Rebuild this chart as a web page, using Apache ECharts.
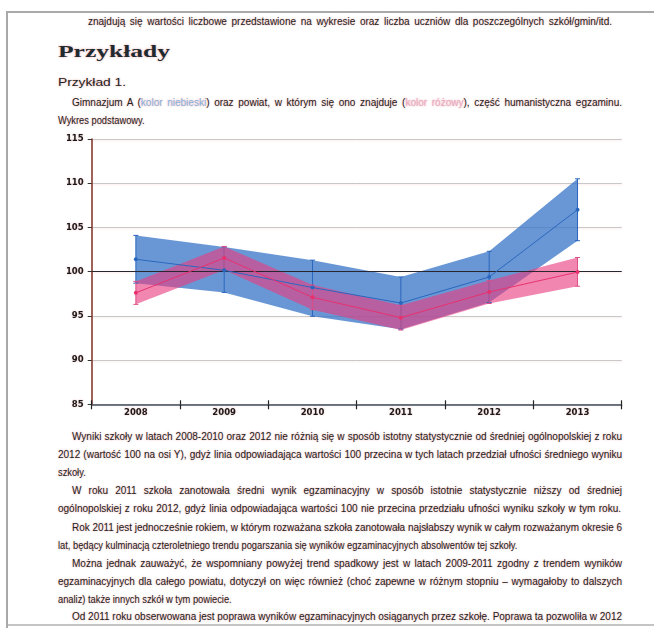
<!DOCTYPE html>
<html>
<head>
<meta charset="utf-8">
<script src="https://cdn.jsdelivr.net/npm/echarts@6/dist/echarts.min.js"></script>
<style>
  html, body { margin:0; padding:0; background:#fff; width:654px; height:628px; overflow:hidden; }
  #page { position:absolute; left:0; top:0; width:654px; height:628px; }
  .frameL { position:absolute; left:6px; top:11px; width:2px; height:617px; background:#a9a9a9; }
  .frameT { position:absolute; left:6px; top:11px; width:648px; height:2px; background:#a9a9a9; }
  .frameB { position:absolute; left:8px; top:624px; width:646px; height:2px; background:#c4c4c4; }
  .ln { position:absolute; white-space:nowrap; font-family:"Liberation Sans", Arial, sans-serif; font-size:10px;
        line-height:14px; height:14px; color:#222; transform-origin:0 50%;
        text-shadow:0 0 2px rgba(210,50,50,0.45); }
  .ln span { display:inline-block; }
  .head { font-family:"Liberation Serif", "DejaVu Serif", serif; font-weight:bold; font-size:16.5px; line-height:22px; height:22px; color:#1e2a30; }
  .sub { font-size:11px; text-decoration:underline; }
  .blue { color:#86b4e2; }
  .pink { color:#e9aac6; }
  #chart { position:absolute; left:0; top:128px; width:654px; height:300px; }
  #clip { position:absolute; left:0; top:0; width:654px; height:624px; overflow:hidden; }
</style>
</head>
<body>
<div id="page">
  <div id="clip"></div>
  <div id="chart"></div>
  <div class="frameL"></div>
  <div class="frameT"></div>
  <div class="frameB"></div>
</div>
<script>
// ---- data ----
var years = ['2008', '2009', '2010', '2011', '2012', '2013'];
var schoolMean = [101.4, 100.15, 98.2, 96.45, 99.4, 107.0];
var schoolLow  = [98.7, 97.65, 94.95, 93.5, 96.5, 103.5];
var schoolHigh = [104.1, 102.8, 101.3, 99.4, 102.3, 110.5];
var countyMean = [97.6, 101.55, 97.1, 94.8, 97.7, 99.95];
var countyLow  = [96.3, 100.2, 95.7, 93.4, 96.4, 98.35];
var countyHigh = [98.9, 102.85, 98.5, 96.2, 99.0, 101.6];
var referenceValue = 100;
var yMin = 85, yMax = 115, yStep = 5;

// ---- text lines of the page: [text(html), left, centerY, targetWidth, mode, cls] ----
var textLines = [
  ['znajdują się wartości liczbowe przedstawione na wykresie oraz liczba uczniów dla poszczególnych szkół/gmin/itd.', 88, 22, 524, 'j', ''],
  ['Przykłady', 58, 52, 112, 'fit', 'head'],
  ['Przykład 1.', 58, 82, 68, 'fit', 'sub'],
  ['Gimnazjum A (<span class="blue">kolor niebieski</span>) oraz powiat, w którym się ono znajduje (<span class="pink">kolor różowy</span>), część humanistyczna egzaminu.', 72, 103, 550, 'j', ''],
  ['Wykres podstawowy.', 58, 121, 0, 'l', ''],
  ['Wyniki szkoły w latach 2008-2010 oraz 2012 nie różnią się w sposób istotny statystycznie od średniej ogólnopolskiej z roku', 72, 437, 550, 'j', ''],
  ['2012 (wartość 100 na osi Y), gdyż linia odpowiadająca wartości 100 przecina w tych latach przedział ufności średniego wyniku', 58, 455, 564, 'j', ''],
  ['szkoły.', 58, 473, 0, 'l', ''],
  ['W roku 2011 szkoła zanotowała średni wynik egzaminacyjny w sposób istotnie statystycznie niższy od średniej', 72, 491, 550, 'j', ''],
  ['ogólnopolskiej z roku 2012, gdyż linia odpowiadająca wartości 100 nie przecina przedziału ufności wyniku szkoły w tym roku.', 58, 509, 563, 'j', ''],
  ['Rok 2011 jest jednocześnie rokiem, w którym rozważana szkoła zanotowała najsłabszy wynik w całym rozważanym okresie 6', 72, 528, 550, 'j', ''],
  ['lat, będący kulminacją czteroletniego trendu pogarszania się wyników egzaminacyjnych absolwentów tej szkoły.', 58, 546, 0, 'l', ''],
  ['Można jednak zauważyć, że wspomniany powyżej trend spadkowy jest w latach 2009-2011 zgodny z trendem wyników', 72, 564, 550, 'j', ''],
  ['egzaminacyjnych dla całego powiatu, dotyczył on więc również (choć zapewne w różnym stopniu – wymagałoby to dalszych', 58, 582, 564, 'j', ''],
  ['analiz) także innych szkół w tym powiecie.', 58, 600, 0, 'l', ''],
  ['Od 2011 roku obserwowana jest poprawa wyników egzaminacyjnych osiąganych przez szkołę. Poprawa ta pozwoliła w 2012', 72, 617, 550, 'j', '']
];

var clip = document.getElementById('clip');
textLines.forEach(function (t) {
  var d = document.createElement('div');
  d.className = 'ln ' + t[5];
  d.innerHTML = '<span>' + t[0] + '</span>';
  clip.appendChild(d);
  var h = d.className.indexOf('head') >= 0 ? 22 : 14;
  d.style.left = t[1] + 'px';
  d.style.top = (t[2] - h / 2) + 'px';
  var sp = d.firstChild;
  var w = sp.getBoundingClientRect().width;
  var target = t[3];
  if (t[4] === 'j') {
    var spaces = (sp.textContent.match(/ /g) || []).length;
    if (w < target && spaces > 0) {
      sp.style.wordSpacing = ((target - w) / spaces) + 'px';
    } else if (w > target) {
      d.style.transform = 'scaleX(' + (target / w) + ')';
    }
  } else if (t[4] === 'fit') {
    d.style.transform = 'scaleX(' + (target / w) + ')';
  } else {
    d.style.transform = 'scaleX(0.93)';
  }
});

// ---- chart ----
var chart = echarts.init(document.getElementById('chart'), null, { renderer: 'canvas' });
function diff(hi, lo) { return hi.map(function (v, i) { return +(v - lo[i]).toFixed(3); }); }
function barData(lo, hi) { return lo.map(function (v, i) { return [i, v, hi[i]]; }); }
function errorBar(color) {
  return function (params, api) {
    var x = api.value(0);
    var p1 = api.coord([x, api.value(1)]);
    var p2 = api.coord([x, api.value(2)]);
    var c = 2.5;
    return {
      type: 'group',
      children: [
        { type: 'line', shape: { x1: p1[0], y1: p1[1], x2: p2[0], y2: p2[1] }, style: { stroke: color, lineWidth: 1 } },
        { type: 'line', shape: { x1: p1[0] - c, y1: p1[1], x2: p1[0] + c, y2: p1[1] }, style: { stroke: color, lineWidth: 1 } },
        { type: 'line', shape: { x1: p2[0] - c, y1: p2[1], x2: p2[0] + c, y2: p2[1] }, style: { stroke: color, lineWidth: 1 } }
      ]
    };
  };
}
var labelShadow = { textShadowColor: 'rgba(210,60,60,0.35)', textShadowBlur: 2 };

chart.setOption({
  animation: false,
  grid: { left: 91.7, right: 32.3, top: 11, bottom: 23.7 },
  xAxis: [{
    type: 'category', data: years, boundaryGap: true, position: 'bottom',
    axisLine: { lineStyle: { color: '#46525c', width: 1.5 } },
    axisTick: { show: true, length: 5, lineStyle: { color: '#222', width: 1.2 } },
    axisLabel: Object.assign({ margin: 4, color: '#1a1a1a', fontWeight: 'bold', fontSize: 8.5, fontFamily: 'DejaVu Sans' }, labelShadow),
    splitLine: { show: false }
  }, {
    type: 'category', data: years, boundaryGap: true, position: 'bottom', offset: 0,
    axisLine: { show: false },
    axisTick: { show: true, inside: true, length: 4, lineStyle: { color: '#222', width: 1.2 } },
    axisLabel: { show: false }, splitLine: { show: false }
  }],
  yAxis: {
    type: 'value', min: yMin, max: yMax, interval: yStep,
    axisLine: { show: true, lineStyle: { color: '#7c2e22', width: 1.5 } },
    axisTick: { show: true, length: 4, lineStyle: { color: '#333' } },
    axisLabel: Object.assign({ margin: 8, color: '#1a1a1a', fontWeight: 'bold', fontSize: 8.5, fontFamily: 'DejaVu Sans' }, labelShadow),
    splitLine: { show: true, lineStyle: { color: '#c8c8c8', width: 1, shadowColor: 'rgba(230,120,120,0.18)', shadowBlur: 2, shadowOffsetY: 1 } }
  },
  series: [
    { name: 'schoolLow', type: 'line', stack: 'school', data: schoolLow, symbol: 'none',
      lineStyle: { opacity: 0 }, silent: true, z: 2 },
    { name: 'schoolBand', type: 'line', stack: 'school', data: diff(schoolHigh, schoolLow), symbol: 'none',
      lineStyle: { opacity: 0 }, areaStyle: { color: 'rgba(58,118,200,0.76)', opacity: 1 }, silent: true, z: 2 },
    { name: 'countyLow', type: 'line', stack: 'county', data: countyLow, symbol: 'none',
      lineStyle: { opacity: 0 }, silent: true, z: 3 },
    { name: 'countyBand', type: 'line', stack: 'county', data: diff(countyHigh, countyLow), symbol: 'none',
      lineStyle: { opacity: 0 }, areaStyle: { color: 'rgba(232,62,128,0.62)', opacity: 1 }, silent: true, z: 3 },
    { name: 'schoolErr', type: 'custom', data: barData(schoolLow, schoolHigh), renderItem: errorBar('#2a66bd'), z: 4 },
    { name: 'countyErr', type: 'custom', data: barData(countyLow, countyHigh), renderItem: errorBar('#de4f86'), z: 4 },
    { name: 'school', type: 'line', data: schoolMean, symbol: 'circle', symbolSize: 4,
      itemStyle: { color: '#2a66bd' }, lineStyle: { color: '#2a66bd', width: 1 }, z: 5,
      markLine: { silent: true, symbol: 'none', label: { show: false },
        lineStyle: { color: '#2a2630', width: 1.2, type: 'solid' }, data: [{ yAxis: referenceValue }] } },
    { name: 'county', type: 'line', data: countyMean, symbol: 'circle', symbolSize: 4,
      itemStyle: { color: '#e8306e' }, lineStyle: { color: '#e8306e', width: 1 }, z: 6 }
  ]
});
</script>
</body>
</html>
